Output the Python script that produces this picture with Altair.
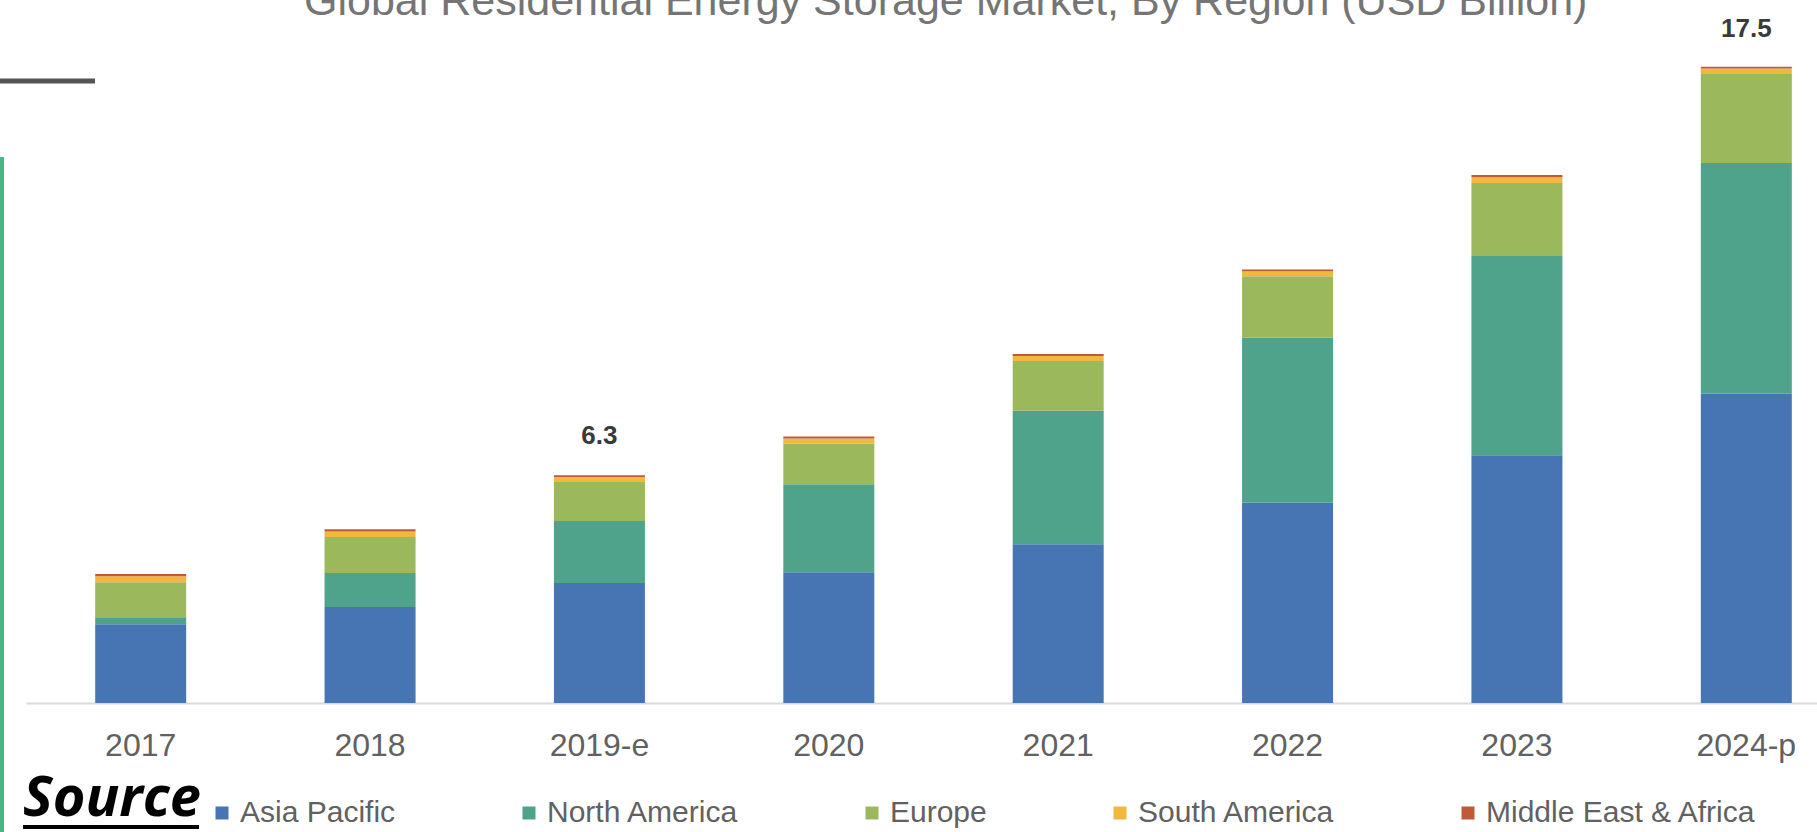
import altair as alt
import pandas as pd

years = ["2017", "2018", "2019-e", "2020", "2021", "2022", "2023", "2024-p"]
regions = ["Asia Pacific", "North America", "Europe", "South America", "Middle East & Africa"]
colors = ["#4775B4", "#4FA38B", "#9BB85C", "#F0B83C", "#C0583A"]

asia_pacific = [2.17, 2.64, 3.30, 3.60, 4.37, 5.52, 6.82, 8.51]
north_america = [0.19, 0.94, 1.71, 2.42, 3.67, 4.53, 5.48, 6.35]
europe = [0.96, 0.99, 1.07, 1.12, 1.37, 1.69, 2.01, 2.45]
south_america = [0.17, 0.15, 0.14, 0.14, 0.14, 0.14, 0.16, 0.15]
middle_east_africa = [0.06, 0.06, 0.05, 0.05, 0.05, 0.05, 0.06, 0.05]

label_years = ["2019-e", "2024-p"]
label_values = [6.3, 17.5]
label_texts = ["6.3", "17.5"]

title_text = "Global Residential Energy Storage Market, By Region (USD Billion)"
source_text = "Source"

series = [asia_pacific, north_america, europe, south_america, middle_east_africa]
rows = []
for k, (reg, vals) in enumerate(zip(regions, series)):
    for y, v in zip(years, vals):
        rows.append({"year": y, "region": reg, "value": v, "order": k})
df = pd.DataFrame(rows)
labels_df = pd.DataFrame({"year": label_years, "total": label_values, "label": label_texts})
one = pd.DataFrame({"k": [0]})

FONT = "Liberation Sans, Arial, sans-serif"
YMAX = 19.344

x_enc = alt.X(
    "year:N",
    sort=years,
    scale=alt.Scale(range=[26, 1861], paddingInner=0, paddingOuter=0),
    axis=alt.Axis(
        title=None,
        labelFont=FONT,
        labelFontSize=32,
        labelColor="#616161",
        labelBaseline="alphabetic",
        labelPadding=52,
        ticks=False,
        tickSize=0,
        domain=True,
        domainColor="#d9d9d9",
        domainWidth=2,
        grid=False,
        labelAngle=0,
    ),
)
y_scale = alt.Scale(domain=[0, YMAX], nice=False)

bars = alt.Chart(df).mark_bar(size=91).encode(
    x=x_enc,
    y=alt.Y("sum(value):Q", scale=y_scale, axis=None),
    color=alt.Color(
        "region:N",
        scale=alt.Scale(domain=regions, range=colors),
        sort=regions,
        legend=alt.Legend(
            title=None,
            orient="none",
            legendX=207,
            legendY=798,
            direction="horizontal",
            columns=5,
            columnPadding=118,
            symbolType="square",
            symbolSize=169,
            symbolStrokeWidth=0,
            labelFont=FONT,
            labelFontSize=30,
            labelColor="#616161",
            labelOffset=3,
            labelLimit=400,
            padding=0,
            offset=0,
        ),
    ),
    order=alt.Order("order:Q", sort="ascending"),
)

totals = alt.Chart(labels_df).mark_text(
    font=FONT, fontSize=26, fontWeight="bold", color="#3a3a3a",
    baseline="alphabetic", align="center", dy=-30,
).encode(
    x=alt.X("year:N", sort=years),
    y=alt.Y("total:Q", scale=y_scale),
    text="label:N",
)

title = alt.Chart(one).mark_text(
    font=FONT, fontSize=43, color="#757575", align="left", baseline="alphabetic",
    text=title_text,
).encode(x=alt.value(304), y=alt.value(15))

source = alt.Chart(one).mark_text(
    font="Open Sans, sans-serif", fontSize=56, fontWeight="bold",
    fontStyle="italic", color="#000000", align="left", baseline="alphabetic", text=source_text,
).encode(x=alt.value(23), y=alt.value(816))

underline = alt.Chart(one).mark_rule(color="#000000", strokeWidth=4).encode(
    x=alt.value(23), x2=alt.value(199), y=alt.value(827)
)
green_line = alt.Chart(one).mark_rule(color="#45B883", strokeWidth=4).encode(
    x=alt.value(2), y=alt.value(157), y2=alt.value(832)
)
dark_line = alt.Chart(one).mark_rule(color="#555555", strokeWidth=5).encode(
    x=alt.value(0), x2=alt.value(95), y=alt.value(81)
)

chart = alt.layer(bars, totals, title, source, underline, green_line, dark_line).properties(
    width=1817,
    height=703,
    autosize=alt.AutoSizeParams(type="none"),
    padding={"left": 0, "top": 0, "right": 0, "bottom": 129},
    background="#ffffff",
).configure_view(strokeWidth=0)

chart.save("out.html", embed_options={"renderer": "svg", "actions": False})
